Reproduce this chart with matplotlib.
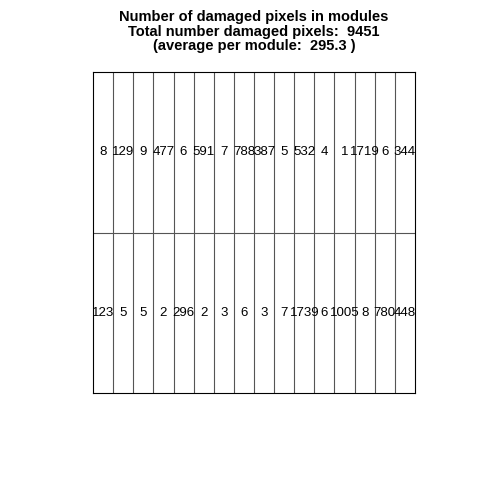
import numpy as np
import matplotlib
matplotlib.use('Agg')
import matplotlib.pyplot as plt

plt.rcParams['font.family'] = ['Liberation Sans', 'DejaVu Sans']

# damaged pixel counts per module, top row then bottom row
top_row = [8, 129, 9, 477, 6, 591, 7, 788, 387, 5, 532, 4, 1, 1719, 6, 344]
bottom_row = [123, 5, 5, 2, 296, 2, 3, 6, 3, 7, 1739, 6, 1005, 8, 780, 448]

counts = np.array([top_row, bottom_row])
total = counts.sum()
avg = total / counts.size

fig = plt.figure(figsize=(4.8, 4.8), dpi=100)
ax = fig.add_axes([93/480, 1 - 393/480, 322/480, 321/480])

ncol = counts.shape[1]
ax.set_xlim(0, ncol)
ax.set_ylim(0, 2)
ax.vlines(np.arange(1, ncol), 0, 2, color='#555555', lw=0.8)
ax.hlines(1, 0, ncol, color='#555555', lw=0.8)
for s in ax.spines.values():
    s.set_linewidth(0.8)
ax.set_xticks([])
ax.set_yticks([])

for r, row in enumerate(counts):
    y = 1.5 - r
    for c, v in enumerate(row):
        ax.text(c + 0.5, y, str(v), ha='center', va='center', fontsize=9.5)

title = ("Number of damaged pixels in modules\n"
         "Total number damaged pixels:  %d\n"
         "(average per module:  %.1f )" % (total, avg))
fig.text(254/480, 1 - 10/480, title, ha='center', va='top',
         fontsize=10.5, fontweight='bold', linespacing=1.05)

fig.savefig('out.png', dpi=100)
